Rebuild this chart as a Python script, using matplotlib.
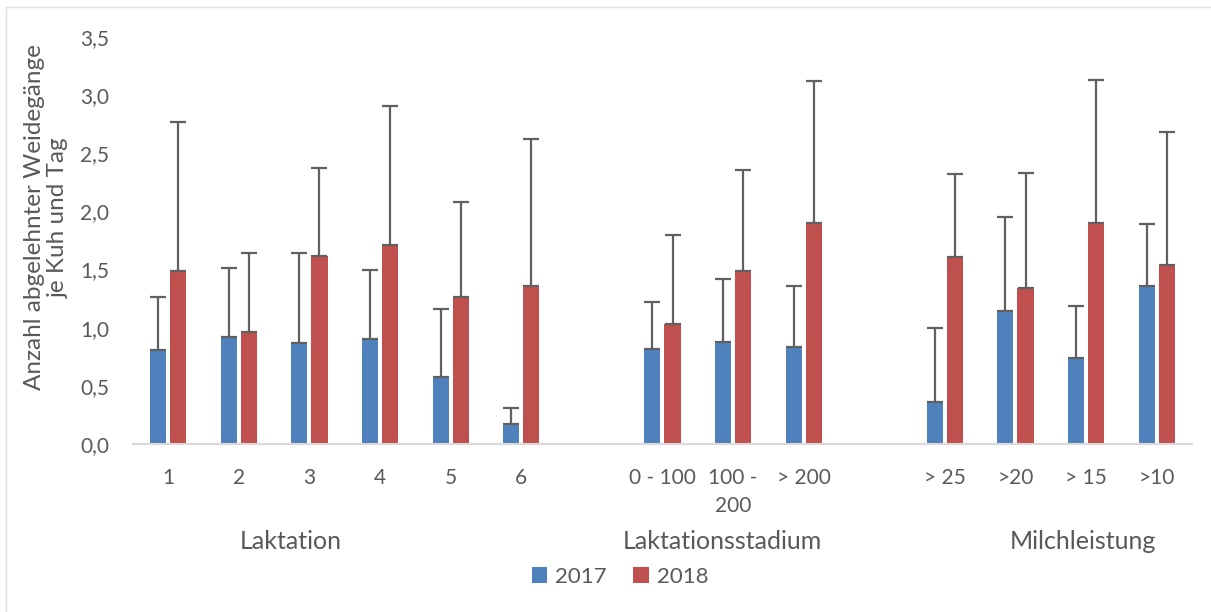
import numpy as np
import matplotlib.pyplot as plt
from matplotlib.lines import Line2D

# categories (blank strings are the empty slots between the groups)
categories = ["1", "2", "3", "4", "5", "6", "",
              "0 - 100", "100 -\n200", "> 200", "",
              "> 25", ">20", "> 15", ">10"]

mean_2017 = [0.81, 0.92, 0.87, 0.90, 0.58, 0.17,
             0.815, 0.88, 0.83,
             0.365, 1.14, 0.74, 1.355]
sd_2017 = [0.45, 0.59, 0.77, 0.60, 0.58, 0.14,
           0.405, 0.54, 0.53,
           0.635, 0.81, 0.45, 0.535]

mean_2018 = [1.49, 0.96, 1.62, 1.71, 1.26, 1.36,
             1.03, 1.485, 1.90,
             1.61, 1.34, 1.90, 1.54]
sd_2018 = [1.28, 0.68, 0.75, 1.20, 0.82, 1.26,
           0.77, 0.875, 1.22,
           0.71, 0.99, 1.23, 1.14]

groups = ["Laktation", "Laktationsstadium", "Milchleistung"]
group_x = [1.73, 7.85, 12.96]

years = ["2017", "2018"]
colors = ["#4F81BD", "#C0504D"]
text_color = "#595959"

plt.rcParams['font.family'] = ['Lato', 'DejaVu Sans']

fig = plt.figure(figsize=(12.11, 6.12), dpi=100)
ax = fig.add_axes([0.1098, 0.2745, 0.8745, 0.665])

slots = np.arange(len(categories))
x = np.array([i for i, c in enumerate(categories) if c != ""])

width = 0.227
offset = 0.142
for k, (means, sds) in enumerate([(mean_2017, sd_2017), (mean_2018, sd_2018)]):
    pos = x + (offset if k else -offset)
    ax.bar(pos, means, width, color=colors[k], label=years[k], zorder=2)
    ax.errorbar(pos, means, yerr=[np.zeros(len(sds)), sds], fmt="none",
                ecolor="#606060", elinewidth=1.6, capsize=6, capthick=1.6, zorder=3)

ax.set_xlim(-0.5, len(categories) - 0.5)
ax.set_ylim(0, 3.5)
ax.set_yticks(np.arange(0, 3.51, 0.5))
ax.set_yticklabels([f"{v:.1f}".replace(".", ",") for v in np.arange(0, 3.51, 0.5)])
ax.set_xticks(slots)
ax.set_xticklabels(categories, linespacing=1.55, va="top")
ax.tick_params(axis="both", length=0, labelsize=15, labelcolor=text_color)
ax.tick_params(axis="y", pad=17)
ax.tick_params(axis="x", pad=17)

for s in ["top", "right", "left"]:
    ax.spines[s].set_visible(False)
ax.spines["bottom"].set_color("#d9d9d9")
ax.spines["bottom"].set_linewidth(1.5)

ax.set_ylabel("Anzahl abgelehnter Weidegänge\nje Kuh und Tag", fontsize=17.5,
              color=text_color, linespacing=1.15)
ax.yaxis.set_label_coords(-0.061, 0.557)

for g, gx in zip(groups, group_x):
    ax.text(gx, -0.84, g, ha="center", va="center", fontsize=18, color=text_color)

fig.legend(loc="center", bbox_to_anchor=(620 / 1211, 1 - 577 / 612), ncol=2,
           frameon=False, fontsize=16, handlelength=0.7, handleheight=0.7,
           handletextpad=0.35, columnspacing=1.2, labelcolor=text_color)

# thin frame at top and left edge of the picture
fig.add_artist(Line2D([6 / 1211, 1], [1 - 7 / 612] * 2, color="#e0e0e0", lw=1))
fig.add_artist(Line2D([6 / 1211] * 2, [0, 1 - 7 / 612], color="#e0e0e0", lw=1))

fig.savefig("out.png", dpi=100)
